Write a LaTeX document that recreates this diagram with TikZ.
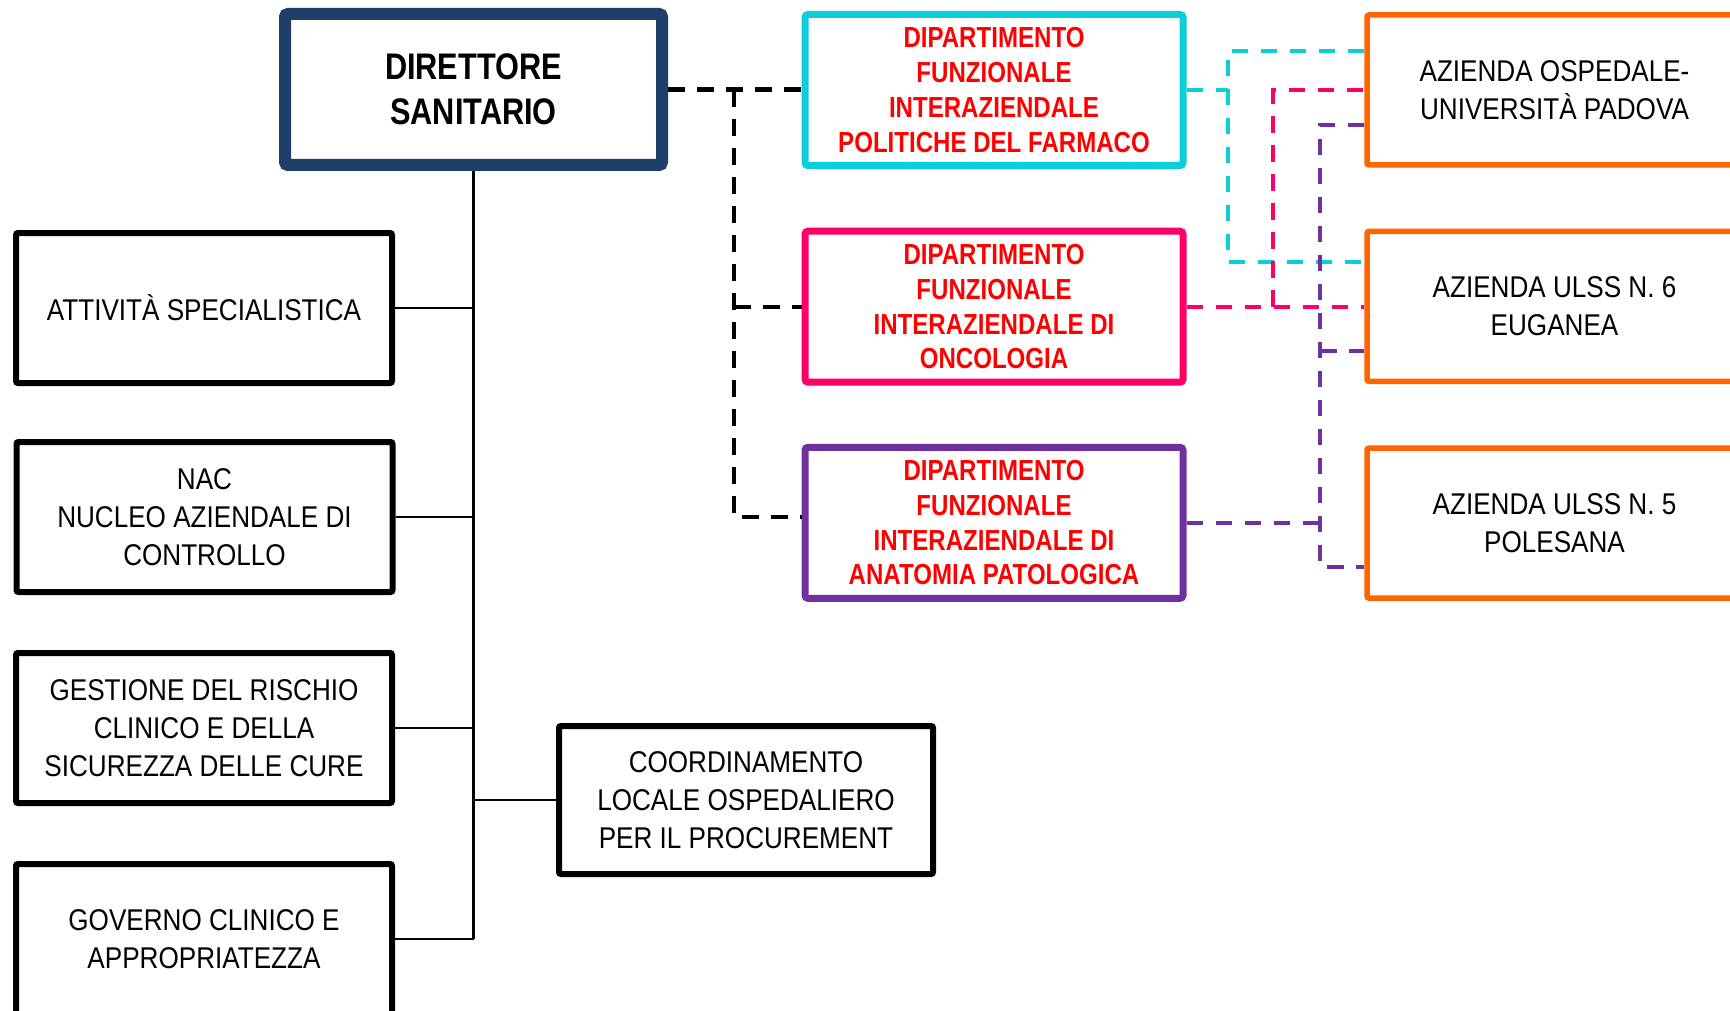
\documentclass[tikz,border=0pt]{standalone}
\usepackage{fontspec}
\setmainfont{Liberation Sans}
\newfontfamily\nreg[FakeStretch=0.87]{Liberation Sans}
\newfontfamily\nbld[FakeStretch=0.83]{Liberation Sans}
\definecolor{navyC}{HTML}{1F3F6B}
\definecolor{cyanC}{HTML}{0ACFDA}
\definecolor{pinkC}{HTML}{FF0066}
\definecolor{purpleC}{HTML}{7030A0}
\definecolor{orangeC}{HTML}{FF6600}
\definecolor{redT}{HTML}{FF0000}
\begin{document}
\begin{tikzpicture}[x=0.5pt,y=-0.5pt,
  every node/.style={inner sep=0pt, align=center},
  regtext/.style={font=\nreg\fontsize{15pt}{19pt}\selectfont},
  depttext/.style={font=\nbld\bfseries\fontsize{14.5pt}{17.4pt}\selectfont, text=redT},
  leftbox/.style={draw=black, line width=3pt, minimum width=188pt, minimum height=75pt, rounded corners=1pt, regtext},
  dirbox/.style={draw=navyC, line width=6pt, minimum width=188.5pt, minimum height=75.5pt, rounded corners=1.5pt,
     font=\nbld\bfseries\fontsize{18.5pt}{22.7pt}\selectfont},
  deptbox/.style={line width=3.5pt, minimum width=189pt, minimum height=75.5pt, rounded corners=1.5pt, depttext},
  orangebox/.style={draw=orangeC, line width=2.75pt, minimum width=187.5pt, minimum height=75pt, rounded corners=1pt, regtext},
  trunk/.style={line width=1.3pt, black},
  bdash/.style={line width=2.15pt, black, dash pattern=on 8.3pt off 6.2pt},
  cdash/.style={line width=2pt, dash pattern=on 8.3pt off 6.2pt}
]
\useasboundingbox (0,0) rectangle (1730,1011);
\clip (0,0) rectangle (1730,1011);
\fill[white] (0,0) rectangle (1730,1011);

% nodes
\node[dirbox] (dir) at (473.5,89.5) {DIRETTORE\\SANITARIO};
\node[leftbox] (att) at (204,308) {ATTIVITÀ SPECIALISTICA};
\node[leftbox] (nac) at (204.5,517) {NAC\\NUCLEO AZIENDALE DI\\CONTROLLO};
\node[leftbox] (ges) at (204,728) {GESTIONE DEL RISCHIO\\CLINICO E DELLA\\SICUREZZA DELLE CURE};
\node[leftbox] (gov) at (204,939) {GOVERNO CLINICO E\\APPROPRIATEZZA};
\node[leftbox, minimum width=187pt, minimum height=74pt] (coord) at (746,800) {COORDINAMENTO\\LOCALE OSPEDALIERO\\PER IL PROCUREMENT};

\node[deptbox, draw=cyanC] (far) at (994,90) {DIPARTIMENTO\\FUNZIONALE\\INTERAZIENDALE\\POLITICHE DEL FARMACO};
\node[deptbox, draw=pinkC] (onc) at (994,306.7) {DIPARTIMENTO\\FUNZIONALE\\INTERAZIENDALE DI\\ONCOLOGIA};
\node[deptbox, draw=purpleC] (ana) at (994,522.8) {DIPARTIMENTO\\FUNZIONALE\\INTERAZIENDALE DI\\ANATOMIA PATOLOGICA};

\node[orangebox] (ao) at (1554.5,90) {AZIENDA OSPEDALE-\\UNIVERSITÀ PADOVA};
\node[orangebox] (u6) at (1554.5,306.4) {AZIENDA ULSS N. 6\\EUGANEA};
\node[orangebox] (u5) at (1554.5,523.1) {AZIENDA ULSS N. 5\\POLESANA};

% solid tree
\coordinate (trunkend) at (dir.south |- gov.east);
\draw[trunk] (dir.south) -- (trunkend);
\draw[trunk] (att.east) -- (att.east -| dir.south);
\draw[trunk] (nac.east) -- (nac.east -| dir.south);
\draw[trunk] (ges.east) -- (ges.east -| dir.south);
\draw[trunk] (gov.east) -- (trunkend);
\draw[trunk] (coord.west) -- (coord.west -| dir.south);

% black dashed
\coordinate (bx) at (734,90);
\coordinate (anain) at (734,517);
\draw[bdash] (dir.east) -- (dir.east -| far.west);
\draw[bdash] (bx) -- (anain) -- (anain -| ana.west);
\draw[bdash] (bx |- onc.west) -- (onc.west);

% cyan dashed
\coordinate (cyT) at (1228,51);
\coordinate (cyB) at (1228,262);
\draw[cdash, cyanC] (far.east) -- (far.east -| cyT);
\draw[cdash, cyanC] (ao.west |- cyT) -- (cyT) -- (cyB) -- (u6.west |- cyB);

% pink dashed
\coordinate (pkT) at (1273,90.5);
\draw[cdash, pinkC] (onc.east) -- (u6.west |- onc.east);
\draw[cdash, pinkC] (onc.east -| pkT) -- (pkT) -- (ao.west |- pkT);

% purple dashed
\coordinate (puT) at (1320,125);
\coordinate (puM) at (1320,351);
\coordinate (puB) at (1320,566.6);
\draw[cdash, purpleC] (ana.east) -- (ana.east -| puT);
\draw[cdash, purpleC] (ao.west |- puT) -- (puT) -- (puB) -- (u5.west |- puB);
\draw[cdash, purpleC] (puM) -- (u6.west |- puM);
\end{tikzpicture}
\end{document}
